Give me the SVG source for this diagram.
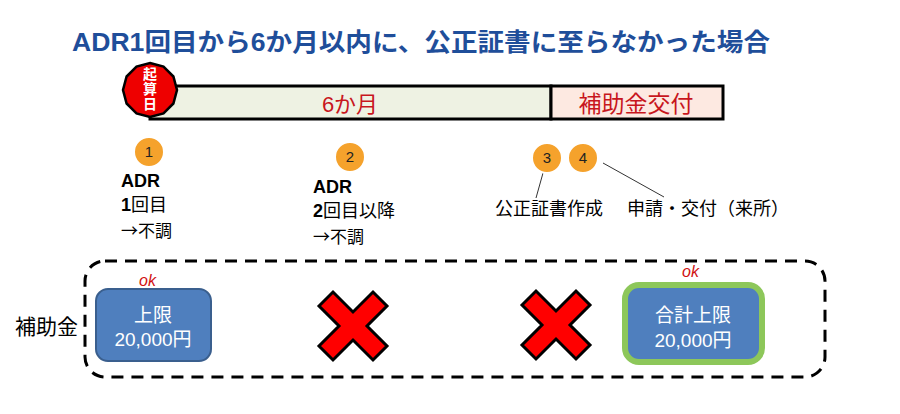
<svg xmlns="http://www.w3.org/2000/svg" width="900" height="414" viewBox="0 0 900 414">
<style>
text{font-family:"Liberation Sans","Noto Sans CJK JP",sans-serif;}
.title{font-size:25px;font-weight:bold;fill:#1F4E9A;}
.lbl{font-size:18px;fill:#000;}
.arr{font-family:"Noto Sans CJK JP",sans-serif;font-size:17px;}
.num{font-size:15px;fill:#222;text-anchor:middle;}
.dot{fill:#F5A22C;stroke:#fff;stroke-width:2;}
.box{fill:#4F7FBE;}
.boxt{font-size:19px;fill:#fff;text-anchor:middle;}
.ok{font-size:16px;fill:#D01010;font-style:italic;}
.cross{fill:#FF0000;stroke:#000;stroke-width:3;stroke-linejoin:miter;}
.lead{stroke:#333;stroke-width:1;fill:none;}
</style>
<rect width="900" height="414" fill="#fff"/>
<text class="title" x="72" y="51" textLength="698" lengthAdjust="spacingAndGlyphs">ADR1回目から6か月以内に、公正証書に至らなかった場合</text>

<g id="timeline">
  <rect x="150" y="86" width="401" height="33" fill="#EEF2E3" stroke="#000" stroke-width="3"/>
  <text x="350" y="112" font-size="22" fill="#C8161D" text-anchor="middle">6か月</text>
</g>
<g id="subsidy-bar">
  <rect x="551" y="86" width="172" height="33" fill="#FDE9E1" stroke="#000" stroke-width="3"/>
  <text x="636" y="112" font-size="23" fill="#C8161D" text-anchor="middle">補助金交付</text>
</g>
<g id="start">
  <polygon points="150,63 163.5,66.6 173.4,76.5 177,90 173.4,103.5 163.5,113.4 150,117 136.5,113.4 126.6,103.5 123,90 126.6,76.5 136.5,66.6" fill="#EE0000" stroke="#000" stroke-width="2.5"/>
  <text x="150" y="79" font-size="14" font-weight="bold" fill="#fff" text-anchor="middle">起</text>
  <text x="150" y="94" font-size="14" font-weight="bold" fill="#fff" text-anchor="middle">算</text>
  <text x="150" y="109" font-size="14" font-weight="bold" fill="#fff" text-anchor="middle">日</text>
</g>

<g id="connectors">
  <line class="lead" x1="543" y1="173" x2="536" y2="198"/>
  <line class="lead" x1="603" y1="163" x2="664" y2="197"/>
</g>

<g id="step1">
  <circle class="dot" cx="149" cy="152" r="15"/>
  <text class="num" x="149" y="157">1</text>
  <text class="lbl" x="121" y="187" font-weight="bold">ADR</text>
  <text class="lbl" x="121" y="211"><tspan font-weight="bold">1</tspan>回目</text>
  <text class="lbl arr" x="121" y="237">→不調</text>
</g>
<g id="step2">
  <circle class="dot" cx="350" cy="157" r="15"/>
  <text class="num" x="350" y="162">2</text>
  <text class="lbl" x="313" y="193" font-weight="bold">ADR</text>
  <text class="lbl" x="313" y="217"><tspan font-weight="bold">2</tspan>回目以降</text>
  <text class="lbl arr" x="313" y="243">→不調</text>
</g>
<g id="step3">
  <circle class="dot" cx="547" cy="158" r="15"/>
  <text class="num" x="547" y="163">3</text>
  <text class="lbl" x="495" y="215">公正証書作成</text>
</g>
<g id="step4">
  <circle class="dot" cx="583" cy="158" r="15"/>
  <text class="num" x="583" y="163">4</text>
  <text class="lbl" x="627" y="215">申請・交付（来所）</text>
</g>

<g id="subsidy-frame">
  <rect x="85" y="261" width="740" height="116" rx="20" ry="20" fill="none" stroke="#000" stroke-width="3" stroke-dasharray="12,8"/>
  <text x="15" y="334" font-size="21" fill="#000">補助金</text>
</g>
<g id="limit1">
  <text class="ok" x="139" y="286">ok</text>
  <rect class="box" x="96" y="289" width="115" height="72" rx="12" stroke="#3A5F8E" stroke-width="2"/>
  <text class="boxt" x="153" y="322">上限</text>
  <text class="boxt" x="153" y="346">20,000円</text>
</g>
<g id="cross1">
  <polygon class="cross" transform="translate(353,326)" points="-34,-20 -20,-34 0,-14 20,-34 34,-20 14,0 34,20 20,34 0,14 -20,34 -34,20 -14,0"/>
</g>
<g id="cross2">
  <polygon class="cross" transform="translate(556,325)" points="-34,-20 -20,-34 0,-14 20,-34 34,-20 14,0 34,20 20,34 0,14 -20,34 -34,20 -14,0"/>
</g>
<g id="limit2">
  <text class="ok" x="682" y="277">ok</text>
  <rect class="box" x="625" y="285" width="137" height="77" rx="14" stroke="#8DC75A" stroke-width="6"/>
  <text class="boxt" x="693" y="322" font-size="20">合計上限</text>
  <text class="boxt" x="693" y="347" font-size="20">20,000円</text>
</g>
</svg>
